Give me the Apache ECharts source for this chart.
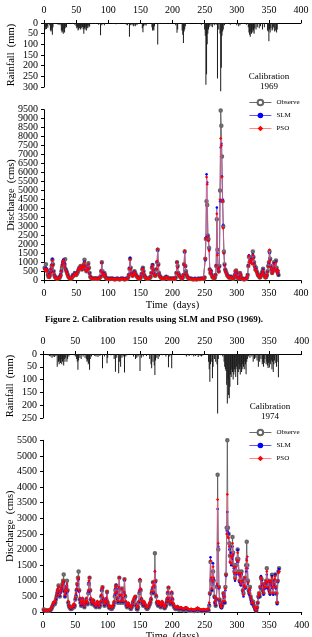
<!DOCTYPE html>
<html>
<head>
<meta charset="utf-8">
<script src="https://cdn.jsdelivr.net/npm/echarts@6/dist/echarts.min.js"></script>
<style>
  html, body { margin: 0; padding: 0; background: #fff; }
  #chart { width: 312px; height: 637px; }
</style>
</head>
<body>
<div id="chart"></div>
<script>
// daily discharge (cms), days 1..365
var obs69 = [
  700, 650, 900, 600, 500, 300, 200, 180, 250, 400,
  600, 800, 1150, 900, 500, 300, 200, 150, 120, 100,
  100, 120, 150, 130, 200, 300, 500, 700, 850, 1050,
  1100, 900, 1170, 600, 500, 400, 300, 200, 150, 120,
  100, 100, 120, 200, 300, 250, 300, 400, 350, 300,
  350, 400, 500, 600, 700, 650, 800, 700, 600, 650,
  800, 900, 1150, 800, 600, 500, 600, 700, 950, 700,
  400, 200, 150, 120, 100, 90, 80, 90, 100, 120,
  100, 90, 80, 80, 100, 120, 150, 200, 500, 1000,
  500, 300, 250, 400, 300, 150, 120, 100, 90, 80,
  80, 70, 70, 80, 100, 90, 80, 70, 70, 60,
  60, 70, 80, 90, 80, 70, 60, 60, 70, 80,
  100, 90, 80, 70, 60, 60, 70, 80, 90, 100,
  150, 300, 650, 1200, 700, 400, 300, 250, 300, 450,
  500, 400, 300, 250, 200, 150, 120, 100, 100, 120,
  200, 350, 600, 700, 500, 300, 200, 150, 120, 100,
  100, 90, 100, 120, 150, 200, 400, 700, 850, 600,
  400, 300, 250, 300, 600, 1000, 1700, 900, 400, 250,
  200, 150, 120, 100, 100, 90, 100, 120, 150, 200,
  180, 150, 120, 100, 90, 80, 80, 90, 100, 100,
  90, 80, 80, 90, 150, 400, 1000, 800, 400, 300,
  250, 200, 150, 120, 100, 150, 300, 900, 1600, 800,
  500, 300, 200, 150, 120, 100, 90, 80, 80, 70,
  70, 60, 60, 70, 80, 70, 60, 60, 70, 80,
  80, 70, 70, 80, 90, 100, 90, 80, 100, 150,
  1200, 2300, 4400, 4200, 2500, 2300, 1800, 600, 400, 500,
  300, 200, 150, 150, 120, 150, 300, 800, 3400, 1700,
  700, 500, 800, 5000, 9450, 8600, 6900, 4400, 3000, 1600,
  900, 600, 500, 400, 300, 250, 200, 150, 150, 200,
  200, 150, 120, 100, 100, 150, 300, 500, 550, 400,
  200, 120, 100, 150, 400, 300, 150, 100, 80, 70,
  60, 60, 70, 80, 100, 150, 300, 800, 1300, 1000,
  1200, 1100, 1250, 1000, 1600, 1300, 1000, 800, 600, 700,
  500, 400, 300, 250, 200, 150, 200, 300, 400, 500,
  650, 400, 250, 200, 150, 200, 300, 500, 800, 1000,
  1600, 1200, 800, 600, 400, 500, 700, 1000, 800, 600,
  1100, 700, 500, 400, 300
];
var slm69 = [
  650, 600, 700, 650, 550, 350, 250, 200, 300, 450,
  650, 900, 1200, 850, 500, 300, 200, 150, 130, 120,
  110, 120, 160, 150, 220, 350, 550, 850, 1000, 1150,
  1150, 950, 750, 600, 500, 400, 300, 220, 160, 130,
  110, 110, 130, 220, 300, 280, 320, 420, 380, 320,
  380, 450, 550, 650, 700, 700, 750, 650, 600, 700,
  750, 850, 1050, 800, 600, 550, 600, 700, 850, 650,
  400, 220, 160, 130, 110, 100, 90, 100, 110, 130,
  110, 100, 90, 90, 110, 130, 160, 220, 550, 950,
  450, 320, 280, 380, 280, 170, 130, 110, 100, 90,
  90, 80, 80, 90, 110, 100, 90, 80, 80, 70,
  70, 80, 90, 100, 90, 80, 70, 70, 80, 90,
  110, 100, 90, 80, 70, 70, 80, 90, 100, 110,
  170, 320, 700, 1250, 650, 400, 320, 270, 320, 480,
  480, 380, 300, 260, 210, 160, 130, 110, 110, 130,
  220, 380, 650, 680, 480, 300, 210, 160, 130, 110,
  110, 100, 110, 130, 160, 220, 420, 750, 880, 580,
  380, 300, 260, 320, 650, 1050, 1650, 850, 380, 260,
  210, 160, 130, 110, 110, 100, 110, 130, 160, 210,
  190, 160, 130, 110, 100, 90, 90, 100, 110, 110,
  100, 90, 90, 100, 170, 420, 1000, 750, 380, 300,
  260, 210, 160, 130, 110, 170, 320, 850, 1550, 750,
  450, 300, 210, 160, 130, 110, 100, 90, 90, 80,
  80, 70, 70, 80, 90, 80, 70, 70, 80, 90,
  90, 80, 80, 90, 100, 110, 100, 90, 110, 170,
  1100, 2400, 5900, 5450, 2450, 2200, 1700, 650, 450, 550,
  320, 220, 170, 160, 130, 160, 320, 850, 4050, 1500,
  650, 500, 750, 4400, 7400, 7600, 5800, 4500, 3100, 1500,
  850, 600, 480, 380, 300, 250, 210, 160, 160, 210,
  210, 160, 130, 110, 110, 160, 300, 450, 500, 380,
  210, 130, 110, 160, 380, 300, 160, 110, 90, 80,
  70, 70, 80, 90, 110, 160, 320, 850, 1400, 1050,
  1150, 1050, 1200, 950, 1450, 1250, 950, 750, 600, 650,
  480, 380, 300, 250, 210, 160, 210, 300, 380, 480,
  600, 380, 250, 210, 160, 210, 300, 480, 750, 950,
  1500, 1150, 750, 580, 400, 480, 650, 950, 750, 580,
  1050, 650, 480, 380, 300
];
var pso69 = [
  600, 550, 650, 600, 500, 300, 200, 150, 250, 400,
  600, 850, 1100, 800, 450, 250, 150, 120, 100, 90,
  90, 100, 130, 120, 180, 300, 500, 800, 950, 1100,
  1100, 900, 700, 550, 450, 350, 250, 180, 130, 100,
  90, 90, 110, 180, 250, 230, 280, 380, 330, 280,
  350, 450, 550, 650, 650, 700, 800, 650, 600, 700,
  750, 850, 1000, 750, 550, 500, 550, 650, 900, 650,
  350, 180, 130, 100, 90, 80, 70, 80, 90, 110,
  90, 80, 70, 70, 90, 110, 140, 200, 500, 1000,
  400, 280, 250, 350, 250, 140, 110, 90, 80, 70,
  70, 60, 60, 70, 90, 80, 70, 60, 60, 50,
  50, 60, 70, 80, 70, 60, 50, 50, 60, 70,
  90, 80, 70, 60, 50, 50, 60, 70, 80, 90,
  150, 300, 650, 1150, 600, 350, 280, 230, 280, 430,
  450, 350, 280, 230, 180, 140, 110, 90, 90, 110,
  200, 350, 620, 650, 450, 280, 180, 140, 110, 90,
  90, 80, 90, 110, 140, 200, 400, 700, 820, 550,
  350, 280, 230, 300, 620, 1050, 1750, 800, 350, 230,
  180, 140, 110, 90, 90, 80, 90, 110, 140, 190,
  170, 140, 110, 90, 80, 70, 70, 80, 90, 90,
  80, 70, 70, 80, 150, 400, 1000, 700, 350, 280,
  230, 180, 140, 110, 90, 150, 300, 900, 1650, 800,
  420, 280, 180, 140, 110, 90, 80, 70, 70, 60,
  60, 50, 50, 60, 70, 60, 50, 50, 60, 70,
  70, 60, 60, 70, 80, 90, 80, 70, 90, 150,
  1200, 2300, 5750, 5350, 2400, 2200, 1650, 600, 400, 500,
  300, 200, 150, 140, 110, 140, 300, 800, 3700, 1400,
  600, 450, 700, 4500, 7900, 7500, 5750, 4400, 2900, 1500,
  800, 550, 450, 350, 280, 230, 190, 140, 140, 190,
  190, 140, 110, 90, 90, 150, 300, 500, 550, 350,
  190, 110, 90, 140, 420, 280, 140, 90, 70, 60,
  60, 60, 70, 80, 100, 150, 300, 800, 1350, 1000,
  1100, 1000, 1150, 900, 1400, 1200, 900, 700, 550, 600,
  450, 350, 280, 230, 190, 140, 190, 280, 350, 450,
  550, 350, 230, 190, 140, 190, 280, 450, 750, 1000,
  1700, 1100, 700, 550, 380, 450, 650, 900, 700, 550,
  1000, 600, 450, 350, 550
];
var obs74 = [
  80, 70, 60, 50, 50, 40, 40, 50, 60, 50,
  60, 80, 100, 150, 200, 250, 300, 250, 300, 400,
  500, 600, 700, 850, 600, 500, 650, 700, 800, 900,
  1000, 1200, 700, 500, 600, 800, 1000, 700, 300, 200,
  150, 120, 100, 100, 120, 150, 200, 150, 200, 400,
  500, 700, 900, 1100, 1300, 700, 400, 300, 200, 250,
  400, 300, 200, 150, 250, 300, 400, 300, 250, 600,
  900, 1100, 700, 400, 300, 250, 300, 350, 250, 200,
  200, 150, 200, 300, 250, 200, 150, 200, 300, 500,
  700, 790, 400, 300, 200, 300, 250, 400, 650, 300,
  200, 150, 120, 150, 150, 100, 120, 150, 200, 300,
  500, 700, 850, 600, 400, 300, 700, 1100, 500, 300,
  500, 750, 400, 300, 600, 1050, 500, 300, 200, 150,
  200, 250, 200, 150, 120, 100, 150, 200, 300, 350,
  400, 450, 490, 200, 100, 80, 150, 300, 600, 1000,
  700, 400, 300, 250, 200, 300, 250, 200, 150, 120,
  100, 120, 150, 200, 250, 300, 400, 600, 700, 950,
  600, 800, 1880, 1000, 500, 300, 250, 200, 300, 250,
  200, 150, 200, 300, 250, 200, 150, 120, 150, 200,
  300, 400, 600, 780, 400, 300, 250, 300, 600, 400,
  250, 200, 150, 120, 100, 100, 120, 150, 100, 80,
  80, 100, 120, 100, 80, 70, 60, 60, 80, 100,
  120, 100, 80, 60, 50, 40, 40, 50, 60, 50,
  40, 40, 30, 30, 40, 50, 60, 80, 100, 80,
  60, 50, 40, 40, 30, 30, 40, 50, 40, 30,
  30, 30, 40, 50, 40, 60, 200, 600, 1600, 1000,
  700, 900, 1300, 1000, 500, 300, 200, 400, 800, 4400,
  2000, 800, 400, 300, 200, 150, 200, 300, 600, 500,
  300, 800, 1200, 2700, 5500, 2700, 2500, 2200, 1800, 2100,
  1600, 1800, 2400, 1900, 1500, 1300, 1100, 1500, 1300, 1700,
  2000, 1700, 1300, 1000, 1200, 900, 1300, 1000, 700, 600,
  900, 1100, 800, 1500, 2250, 1500, 1000, 700, 600, 800,
  500, 400, 300, 300, 330, 200, 170, 100, 60, 50,
  150, 300, 500, 600, 500, 800, 1100, 1050, 900, 700,
  600, 800, 900, 800, 1000, 1400, 1000, 800, 1000, 700,
  600, 900, 1000, 1190, 800, 600, 900, 1000, 1200, 800,
  600, 300, 1000, 1300, 1400
];
var slm74 = [
  60, 50, 50, 40, 40, 30, 30, 40, 50, 50,
  60, 90, 120, 170, 220, 270, 300, 280, 320, 420,
  520, 620, 700, 800, 620, 520, 620, 680, 750, 850,
  900, 950, 650, 500, 600, 750, 850, 650, 320, 220,
  160, 130, 110, 110, 130, 170, 220, 170, 220, 420,
  550, 700, 850, 1000, 1050, 650, 400, 300, 220, 270,
  420, 320, 220, 170, 270, 320, 420, 320, 270, 650,
  950, 1100, 650, 400, 320, 270, 320, 370, 270, 220,
  220, 170, 220, 320, 270, 220, 170, 220, 320, 520,
  700, 780, 400, 320, 220, 320, 270, 420, 600, 320,
  220, 170, 130, 170, 170, 120, 130, 170, 220, 320,
  550, 750, 870, 620, 420, 320, 750, 1100, 520, 320,
  520, 720, 420, 320, 620, 1000, 520, 320, 220, 170,
  220, 270, 220, 170, 130, 120, 170, 220, 320, 370,
  420, 470, 490, 220, 120, 100, 170, 320, 650, 1050,
  720, 420, 320, 270, 220, 320, 270, 220, 170, 130,
  120, 130, 170, 220, 270, 320, 420, 620, 750, 950,
  620, 800, 1300, 950, 520, 320, 270, 220, 320, 270,
  220, 170, 220, 320, 270, 220, 170, 130, 170, 220,
  320, 420, 620, 780, 420, 320, 270, 320, 600, 420,
  270, 220, 170, 130, 120, 120, 130, 170, 120, 100,
  100, 120, 130, 120, 100, 90, 80, 80, 100, 120,
  130, 120, 100, 80, 70, 60, 60, 70, 80, 70,
  60, 60, 50, 50, 60, 70, 80, 100, 120, 100,
  80, 70, 60, 60, 50, 50, 60, 70, 60, 50,
  50, 50, 60, 70, 60, 80, 250, 550, 1750, 1050,
  700, 950, 1560, 1050, 450, 300, 220, 400, 850, 3300,
  2100, 750, 350, 200, 150, 120, 200, 300, 550, 450,
  300, 700, 1150, 2600, 3200, 2570, 2500, 2000, 1600, 1900,
  1500, 1700, 2100, 1800, 1400, 1200, 1000, 1400, 1200, 1600,
  1990, 1600, 1200, 950, 1100, 850, 1200, 950, 650, 500,
  800, 1050, 750, 1300, 1700, 1400, 900, 650, 550, 700,
  450, 350, 250, 250, 280, 170, 130, 80, 50, 40,
  130, 280, 450, 550, 500, 750, 1150, 1000, 850, 650,
  550, 750, 850, 750, 950, 1200, 900, 750, 950, 650,
  550, 850, 950, 1150, 750, 550, 850, 1000, 1200, 750,
  550, 250, 950, 1300, 1380
];
var pso74 = [
  70, 60, 50, 50, 40, 40, 40, 50, 60, 60,
  70, 100, 130, 180, 240, 290, 330, 300, 350, 450,
  550, 650, 750, 820, 650, 550, 650, 720, 780, 880,
  950, 1000, 700, 550, 650, 780, 900, 700, 350, 250,
  180, 150, 130, 130, 150, 190, 250, 190, 250, 450,
  600, 750, 900, 1050, 1100, 700, 450, 350, 250, 300,
  450, 350, 250, 190, 300, 350, 450, 350, 300, 700,
  1000, 1100, 700, 450, 350, 300, 350, 400, 300, 250,
  250, 190, 250, 350, 300, 250, 190, 250, 350, 550,
  750, 800, 450, 350, 250, 350, 300, 450, 650, 350,
  250, 190, 150, 190, 190, 140, 150, 190, 250, 350,
  600, 800, 850, 650, 450, 350, 800, 1100, 550, 350,
  550, 750, 450, 350, 650, 1050, 550, 350, 250, 190,
  250, 300, 250, 190, 150, 140, 190, 250, 350, 400,
  450, 500, 500, 250, 150, 130, 190, 350, 700, 1050,
  750, 450, 350, 300, 250, 350, 300, 250, 190, 150,
  140, 150, 190, 250, 300, 350, 450, 650, 800, 950,
  650, 850, 1300, 1000, 550, 350, 300, 250, 350, 300,
  250, 190, 250, 350, 300, 250, 190, 150, 190, 250,
  350, 450, 650, 800, 450, 350, 300, 350, 650, 450,
  300, 250, 190, 150, 140, 140, 150, 190, 140, 120,
  120, 140, 150, 140, 120, 110, 100, 100, 120, 140,
  150, 140, 120, 100, 90, 80, 80, 90, 100, 90,
  80, 80, 70, 70, 80, 90, 100, 120, 140, 120,
  100, 90, 80, 80, 70, 70, 80, 90, 80, 70,
  70, 70, 80, 90, 80, 100, 300, 600, 1650, 1100,
  750, 1000, 1450, 1100, 500, 350, 250, 450, 900, 3600,
  2200, 800, 400, 250, 180, 150, 250, 350, 600, 500,
  350, 750, 1200, 2500, 3770, 2400, 2370, 2100, 1600, 1800,
  1550, 1750, 2200, 1850, 1450, 1250, 1050, 1450, 1250, 1650,
  1900, 1650, 1250, 1000, 1150, 900, 1250, 1000, 700, 550,
  850, 1100, 800, 1400, 1650, 1770, 950, 700, 600, 750,
  500, 400, 300, 300, 300, 200, 150, 100, 70, 60,
  150, 300, 500, 600, 550, 800, 1100, 1050, 900, 700,
  600, 800, 900, 800, 1000, 1300, 950, 800, 1000, 700,
  600, 900, 1000, 1100, 800, 600, 900, 1050, 1150, 800,
  600, 300, 1000, 1250, 1300
];

// rainy days only: [day, mm]
var rain69 = [
  [1,25],[2,30],[3,20],[4,28],[5,15],[6,22],[9,10],[10,35],[11,40],[12,30],[13,55],[14,20],[17,5],[22,8],[25,10],
  [27,35],[28,45],[29,40],[30,50],[31,30],[32,45],[33,25],[34,15],[35,20],[44,5],[48,8],[50,15],[51,25],[52,20],
  [53,35],[54,30],[55,25],[56,20],[57,30],[58,25],[59,15],[60,20],[61,30],[62,50],[63,25],[64,30],[65,20],[66,35],
  [67,15],[68,25],[69,10],[70,20],[71,15],[75,5],[80,5],[85,8],[88,57],[90,10],[94,10],[100,3],[107,5],[110,4],
  [112,6],[115,5],[118,4],[125,5],[128,8],[130,10],[133,65],[135,10],[137,8],[139,15],[140,12],[142,15],[143,10],
  [145,8],[150,5],[153,25],[154,43],[155,15],[157,10],[159,12],[163,5],[168,20],[169,35],[170,30],[171,35],[172,15],
  [177,101],[180,5],[185,5],[190,5],[195,3],[205,10],[207,46],[208,30],[210,5],[215,35],[216,55],[217,94],[218,40],
  [219,30],[220,15],[225,5],[240,5],[245,8],[249,5],[250,30],[251,60],[252,290],[253,240],[254,100],[255,50],
  [256,30],[257,20],[258,10],[260,15],[262,20],[265,10],[268,8],[270,260],[272,30],[274,50],[275,320],[276,210],
  [277,60],[278,40],[279,30],[281,10],[285,5],[290,8],[295,5],[300,10],[303,15],[305,10],[310,5],[315,8],[318,20],
  [319,45],[320,55],[321,65],[322,40],[323,50],[324,30],[325,45],[326,35],[327,50],[328,25],[330,30],[332,20],
  [335,25],[337,15],[340,30],[343,20],[348,35],[349,40],[350,86],[351,30],[352,45],[353,25],[355,35],[356,30],
  [357,20],[359,40],[360,35],[362,45],[363,30]
];
var rain74 = [
  [8,5],[10,8],[12,10],[14,15],[16,10],[18,12],[20,8],[22,50],[24,30],[25,40],[26,25],[27,35],[28,20],[29,40],
  [30,30],[31,25],[32,45],[33,20],[34,30],[35,15],[37,30],[38,20],[40,10],[48,5],[50,10],[52,20],[53,30],[54,62],
  [55,25],[57,15],[59,20],[62,10],[65,15],[67,20],[68,30],[69,25],[70,40],[71,35],[72,62],[73,20],[75,10],[80,8],
  [82,10],[85,12],[88,8],[92,56],[95,10],[99,36],[100,15],[105,5],[110,20],[112,69],[114,15],[117,75],[118,30],
  [120,50],[122,15],[124,10],[126,72],[128,10],[130,5],[140,10],[143,20],[145,15],[147,10],[150,66],[152,15],
  [155,10],[160,8],[165,20],[167,40],[168,56],[170,30],[172,45],[173,82],[174,25],[176,15],[178,20],[180,10],
  [185,5],[190,10],[194,52],[196,10],[199,56],[220,5],[222,10],[226,8],[230,5],[233,10],[236,8],[240,12],[243,8],
  [245,10],[247,6],[256,30],[257,60],[258,108],[259,40],[261,30],[262,95],[263,50],[265,20],[267,30],[269,40],
  [270,232],[271,20],[275,5],[278,10],[280,30],[281,50],[282,60],[283,66],[284,120],[285,193],[286,100],[287,160],
  [288,173],[289,128],[290,80],[291,90],[292,60],[293,70],[294,100],[295,80],[296,60],[297,70],[298,90],[299,50],
  [300,60],[301,121],[302,70],[303,40],[304,60],[305,80],[306,50],[307,70],[308,40],[309,60],[310,50],[311,30],
  [312,60],[313,40],[314,79],[315,30],[316,20],[318,10],[320,15],[323,10],[325,30],[327,20],[329,15],[331,25],
  [333,50],[335,30],[337,20],[339,40],[340,30],[341,50],[342,35],[343,20],[345,40],[346,30],[347,45],[348,55],
  [349,35],[350,53],[351,30],[352,40],[353,25],[354,60],[355,30],[356,70],[357,40],[358,25],[360,35],[361,50],
  [362,30],[364,91]
];

var seriesNames = ['Observe', 'SLM', 'PSO'];
var dayTicks = { min: 0, max: 400, interval: 50 };
// labels next to the ends of the tight 1969 discharge axis, drawn by a twin axis
var twinLabels = [500, 9000];

var FONT = 'Liberation Serif';
var toXY = function (arr) { return arr.map(function (v, i) { return [i + 1, v]; }); };

var axisLine = { show: true, onZero: false, lineStyle: { color: '#000', width: 1 } };
var axisTick = { show: true, length: 3, lineStyle: { color: '#000' } };
function labelCfg (margin) {
  return {
    color: '#000', fontFamily: FONT, fontSize: 10, lineHeight: 8, margin: margin,
    interval: 0, showMinLabel: true, showMaxLabel: true, hideOverlap: false,
    formatter: function (v) { return String(v); }
  };
}
var nameStyle = { color: '#000', fontFamily: FONT, fontSize: 10.5 };

function xAx (grid, pos, showName) {
  return {
    type: 'value', gridIndex: grid, position: pos,
    min: dayTicks.min, max: dayTicks.max, interval: dayTicks.interval,
    axisLine: axisLine, axisTick: axisTick, axisLabel: labelCfg(9),
    splitLine: { show: false },
    name: showName ? 'Time  (days)' : '', nameLocation: 'middle', nameGap: 19, nameTextStyle: nameStyle
  };
}
function yAx (grid, max, interval, name, inverse) {
  return {
    type: 'value', gridIndex: grid, min: 0, max: max, interval: interval, inverse: !!inverse,
    axisLine: axisLine, axisTick: axisTick, axisLabel: labelCfg(6),
    splitLine: { show: false },
    name: name, nameLocation: 'middle', nameGap: 27, nameMoveOverlap: false, nameTextStyle: nameStyle
  };
}
function twinYAx (grid, max, interval) {
  var lab = labelCfg(6);
  lab.showMinLabel = false;
  lab.showMaxLabel = false;
  lab.formatter = function (v) { return twinLabels.indexOf(v) >= 0 ? String(v) : ''; };
  return {
    type: 'value', gridIndex: grid, position: 'left', offset: 0, min: 0, max: max, interval: interval,
    axisLine: { show: false }, axisTick: axisTick, axisLabel: lab, splitLine: { show: false }
  };
}

function lines (xi, obs, slm, pso) {
  return [
    {
      name: seriesNames[0], type: 'line', xAxisIndex: xi, yAxisIndex: xi, data: toXY(obs),
      symbol: 'emptyCircle', symbolSize: 2.5,
      lineStyle: { color: '#444', width: 0.7 },
      itemStyle: { color: '#666', borderWidth: 0.6 }, z: 2
    },
    {
      name: seriesNames[1], type: 'line', xAxisIndex: xi, yAxisIndex: xi, data: toXY(slm),
      symbol: 'circle', symbolSize: 2.5,
      lineStyle: { color: '#3535d8', width: 0.6 },
      itemStyle: { color: '#0000ff' }, z: 3
    },
    {
      name: seriesNames[2], type: 'line', xAxisIndex: xi, yAxisIndex: xi, data: toXY(pso),
      symbol: 'diamond', symbolSize: 3.2,
      lineStyle: { color: '#ff6a6a', width: 0.6 },
      itemStyle: { color: '#ff0000' }, z: 4
    }
  ];
}

function bars (xi, data) {
  return {
    type: 'bar', xAxisIndex: xi, yAxisIndex: xi, data: data,
    barWidth: 1, clip: false, itemStyle: { color: '#1a1a1a' }
  };
}

function legendAt (top) {
  return {
    data: seriesNames, orient: 'vertical', left: 244, top: top,
    itemWidth: 22, itemHeight: 7, itemGap: 5, selectedMode: false,
    itemStyle: { borderWidth: 0.8 },
    lineStyle: { width: 0.8 },
    textStyle: { color: '#000', fontFamily: FONT, fontSize: 7, lineHeight: 8 }
  };
}

function gridAt (left, top, width, height) {
  return { left: left, top: top, width: width, height: height, outerBoundsMode: 'none', containLabel: false };
}

var option = {
  animation: false,
  backgroundColor: '#fff',
  grid: [
    gridAt(44, 23, 257, 64),
    gridAt(44, 109.7, 257, 170.6),
    gridAt(43, 354, 258.7, 64),
    gridAt(43, 440.3, 258.7, 171.7)
  ],
  xAxis: [xAx(0, 'top', false), xAx(1, 'bottom', true), xAx(2, 'top', false), xAx(3, 'bottom', true)],
  yAxis: [
    yAx(0, 300, 50, 'Rainfall  (mm)', true),
    yAx(1, 9500, 500, 'Discharge  (cms)'),
    yAx(2, 250, 50, 'Rainfall  (mm)', true),
    yAx(3, 5500, 500, 'Discharge  (cms)'),
    twinYAx(1, 9500, 500)
  ],
  legend: [legendAt(93.5), legendAt(423.5)],
  graphic: [
    { type: 'text', style: { text: 'Calibration\n1969', x: 269, y: 71, align: 'center', fill: '#000', font: '9px "Liberation Serif"', lineHeight: 10.5 } },
    { type: 'text', style: { text: 'Calibration\n1974', x: 270, y: 401, align: 'center', fill: '#000', font: '9px "Liberation Serif"', lineHeight: 10.5 } },
    { type: 'text', style: { text: 'Figure 2. Calibration results using SLM and PSO (1969).', x: 154, y: 315, align: 'center', fill: '#000', font: 'bold 9px "Liberation Serif"' } }
  ],
  series: [].concat(
    [bars(0, rain69)],
    lines(1, obs69, slm69, pso69),
    [bars(2, rain74)],
    lines(3, obs74, slm74, pso74)
  )
};

var chart = echarts.init(document.getElementById('chart'), null, { renderer: 'canvas' });
chart.setOption(option);
</script>
</body>
</html>
